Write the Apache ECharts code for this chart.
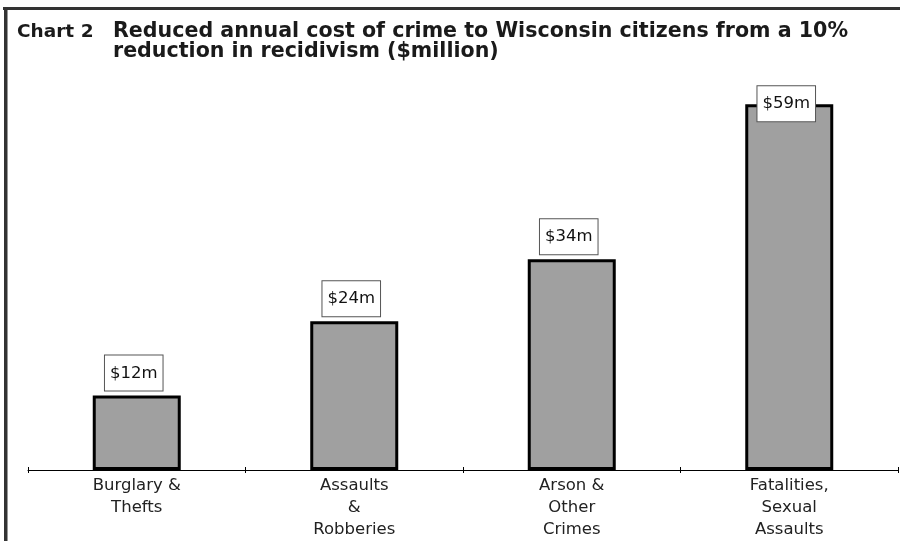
<!DOCTYPE html>
<html>
<head>
<meta charset="utf-8">
<script src="https://cdn.jsdelivr.net/npm/echarts@6/dist/echarts.min.js"></script>
<style>
  html, body { margin: 0; padding: 0; background: #ffffff; }
  #chart { width: 900px; height: 541px; }
</style>
</head>
<body>
<div id="chart"></div>
<script>
// Crime categories along the horizontal axis
const categories = [
  'Burglary &\nThefts',
  'Assaults\n&\nRobberies',
  'Arson &\nOther\nCrimes',
  'Fatalities,\nSexual\nAssaults'
];
// Reduced annual cost, $ million
const savings = [12, 24, 34, 59];

const chartNumber = 'Chart 2';
const titleLines = [
  'Reduced annual cost of crime to Wisconsin citizens from a 10%',
  'reduction in recidivism ($million)'
];

const FONT = 'DejaVu Sans';

const chart = echarts.init(document.getElementById('chart'), null, { renderer: 'canvas' });

const barData = savings.map((v, i) => {
  const item = { value: v };
  // the tallest label is kept inside the plot area, overlapping the bar top
  if (i === savings.length - 1) {
    item.label = { offset: [-3, 22] };
  }
  return item;
});

chart.setOption({
  backgroundColor: '#ffffff',
  animation: false,
  title: [
    {
      text: chartNumber,
      left: 17, top: 23, padding: 0,
      textStyle: { fontFamily: FONT, fontWeight: 'bold', fontSize: 18.5, lineHeight: 19, color: '#1a1a1a' }
    },
    {
      text: titleLines.join('\n'),
      left: 113, top: 22, padding: 0,
      textStyle: { fontFamily: FONT, fontWeight: 'bold', fontSize: 20.6, lineHeight: 19.5, color: '#1a1a1a' }
    }
  ],
  graphic: [
    // frame: top rule and left rule
    { type: 'rect', silent: true, shape: { x: 3, y: 7, width: 897, height: 3 }, style: { fill: '#333333' } },
    { type: 'rect', silent: true, shape: { x: 4, y: 7, width: 3.5, height: 534 }, style: { fill: '#333333' } }
  ],
  grid: { left: 28, right: 2, top: 98, bottom: 70, containLabel: false },
  xAxis: [
    {
      type: 'category',
      data: categories,
      boundaryGap: true,
      axisLine: { show: true, lineStyle: { color: '#000000', width: 1 } },
      axisTick: { show: true, length: 3, lineStyle: { color: '#000000', width: 1 } },
      axisLabel: {
        interval: 0, margin: 5,
        fontFamily: FONT, fontSize: 16.5, lineHeight: 22, color: '#222222', align: 'center'
      },
      splitLine: { show: false }
    },
    {
      // second copy of the axis carries the upward half of the tick marks
      type: 'category',
      data: categories,
      boundaryGap: true,
      position: 'bottom',
      axisLine: { show: false },
      axisTick: { show: true, inside: true, length: 3, lineStyle: { color: '#000000', width: 1 } },
      axisLabel: { show: false },
      splitLine: { show: false }
    }
  ],
  yAxis: {
    type: 'value', min: 0, max: 60,
    show: false,
    splitLine: { show: false }
  },
  series: [
    {
      type: 'bar',
      xAxisIndex: 0,
      data: barData,
      barWidth: 88,
      itemStyle: { color: '#a0a0a0', borderColor: '#000000', borderWidth: 3 },
      label: {
        show: true,
        position: 'top',
        distance: 5,
        offset: [-3, 0],
        formatter: p => '$' + p.value + 'm',
        fontFamily: FONT, fontSize: 16.5, lineHeight: 20, color: '#111111',
        backgroundColor: '#ffffff',
        borderColor: '#555555', borderWidth: 1,
        padding: [8, 5, 7, 5]
      }
    }
  ]
});
</script>
</body>
</html>
